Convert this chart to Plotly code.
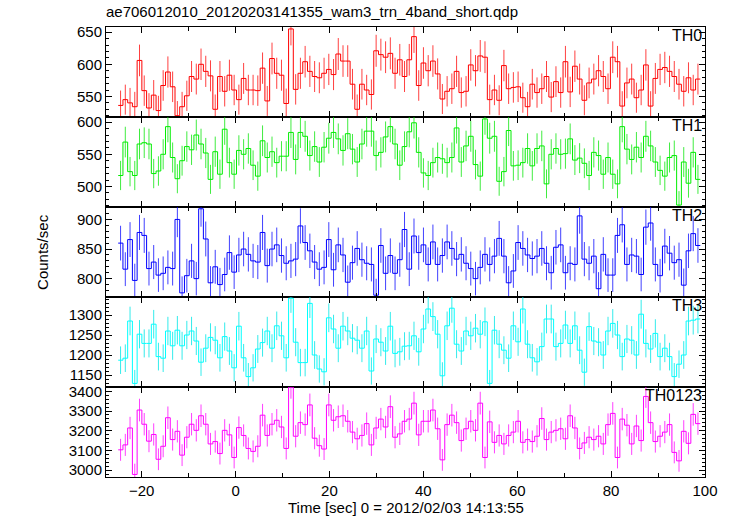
import numpy as np
import plotly.graph_objects as go
from plotly.subplots import make_subplots

title = "ae706012010_20120203141355_wam3_trn_4band_short.qdp"
x_title = "Time [sec] 0 = 2012/02/03 14:13:55"
y_title = "Counts/sec"
band_names = ["TH0", "TH1", "TH2", "TH3", "TH0123"]
# time span covered by the light-curve bins (seconds from 14:13:55)
t_first = -25.0
t_last = 99.0

th0 = [536, 545, 540, 534, 606, 559, 532, 552, 528, 567,
       588, 565, 520, 534, 551, 581, 577, 600, 589, 582,
       530, 581, 558, 583, 560, 545, 578, 560, 560, 559,
       594, 543, 609, 586, 583, 539, 655, 561, 586, 604,
       589, 581, 579, 586, 592, 584, 616, 605, 605, 569,
       530, 569, 560, 553, 621, 615, 611, 617, 586, 607,
       581, 607, 643, 567, 602, 590, 605, 585, 546, 558,
       562, 589, 556, 558, 599, 590, 613, 611, 545, 560,
       544, 598, 562, 564, 565, 548, 534, 569, 556, 562,
       581, 549, 573, 556, 604, 557, 597, 577, 544, 571,
       577, 590, 581, 562, 611, 604, 535, 571, 577, 548,
       560, 599, 535, 578, 592, 595, 589, 581, 569, 558,
       579, 560, 577]
th1 = [517, 569, 523, 517, 566, 568, 566, 520, 524, 550,
       593, 545, 512, 540, 562, 557, 580, 566, 552, 511,
       554, 519, 589, 537, 519, 556, 550, 559, 533, 516,
       571, 545, 554, 537, 547, 547, 584, 542, 584, 578,
       548, 562, 538, 561, 575, 584, 574, 556, 582, 558,
       538, 566, 586, 586, 548, 553, 577, 593, 566, 533,
       562, 585, 599, 553, 521, 517, 537, 545, 543, 537,
       545, 591, 538, 563, 578, 534, 516, 605, 575, 578,
       508, 523, 587, 532, 533, 537, 559, 532, 559, 563,
       504, 550, 559, 550, 551, 574, 541, 544, 536, 517,
       553, 548, 519, 545, 519, 504, 593, 558, 542, 561,
       545, 578, 563, 538, 525, 516, 545, 548, 471, 538,
       505, 553, 511]
th2 = [860, 816, 866, 797, 878, 873, 817, 828, 806, 809,
       819, 817, 900, 776, 805, 830, 800, 918, 867, 793,
       820, 790, 807, 844, 811, 840, 850, 841, 830, 828,
       878, 822, 850, 857, 839, 826, 830, 833, 889, 861,
       847, 828, 816, 819, 866, 815, 857, 840, 794, 827,
       851, 832, 826, 824, 772, 856, 809, 839, 809, 832,
       883, 816, 872, 844, 857, 824, 862, 824, 839, 862,
       851, 833, 841, 826, 817, 800, 819, 841, 824, 838,
       868, 838, 793, 813, 861, 851, 840, 834, 838, 851,
       826, 810, 853, 857, 810, 826, 824, 906, 833, 826,
       838, 783, 841, 806, 806, 873, 891, 824, 840, 838,
       807, 887, 894, 824, 805, 855, 843, 827, 832, 789,
       847, 876, 856]
th3 = [1187, 1192, 1285, 1129, 1252, 1229, 1229, 1277, 1196, 1192,
       1260, 1223, 1262, 1223, 1250, 1260, 1235, 1182, 1217, 1244,
       1237, 1193, 1246, 1210, 1168, 1272, 1193, 1146, 1168, 1215,
       1231, 1260, 1217, 1273, 1248, 1193, 1342, 1232, 1181, 1181,
       1329, 1200, 1165, 1158, 1293, 1265, 1217, 1272, 1260, 1242,
       1237, 1217, 1260, 1160, 1240, 1232, 1210, 1272, 1204, 1208,
       1222, 1223, 1248, 1208, 1265, 1315, 1296, 1252, 1148, 1273,
       1317, 1227, 1210, 1260, 1248, 1267, 1252, 1283, 1129, 1262,
       1227, 1212, 1192, 1273, 1233, 1315, 1227, 1193, 1183, 1221,
       1290, 1290, 1221, 1229, 1275, 1229, 1273, 1212, 1157, 1271,
       1235, 1232, 1200, 1260, 1279, 1250, 1196, 1240, 1237, 1200,
       1302, 1229, 1215, 1254, 1196, 1217, 1196, 1146, 1177, 1200,
       1285, 1287, 1290]
th0123 = [3103, 3128, 3214, 2978, 3305, 3233, 3147, 3181, 3055, 3121,
          3266, 3155, 3197, 3076, 3167, 3233, 3202, 3276, 3233, 3133,
          3145, 3084, 3202, 3179, 3064, 3216, 3176, 3110, 3095, 3121,
          3279, 3176, 3233, 3253, 3219, 3110, 3421, 3172, 3241, 3231,
          3331, 3162, 3124, 3107, 3331, 3253, 3271, 3276, 3248, 3193,
          3159, 3176, 3236, 3128, 3214, 3259, 3219, 3322, 3167, 3184,
          3248, 3259, 3340, 3179, 3248, 3248, 3305, 3210, 3052, 3231,
          3279, 3241, 3150, 3210, 3248, 3202, 3340, 3064, 3245, 3141,
          3176, 3133, 3176, 3193, 3248, 3141, 3155, 3145, 3172, 3262,
          3155, 3193, 3202, 3210, 3159, 3276, 3214, 3110, 3138, 3167,
          3155, 3172, 3133, 3231, 3288, 3064, 3259, 3228, 3133, 3224,
          3150, 3374, 3241, 3145, 3172, 3193, 3231, 3090, 3047, 3197,
          3136, 3283, 3236]

series = [th0, th1, th2, th3, th0123]
colors = ["#ff0000", "#00ee00", "#0000ff", "#00ffff", "#ff00ff"]
err_colors = ["rgba(255,0,0,0.75)", "rgba(0,230,0,0.75)", "rgba(0,0,255,0.75)",
              "rgba(0,230,230,0.8)", "rgba(255,0,255,0.75)"]
y_ranges = [[518, 658], [468, 608], [769, 921], [1120, 1345], [2965, 3422]]
y_dtick = [50, 50, 50, 50, 100]
y_minor = [10, 10, 10, 10, 20]
x_range = [-27.6, 100]

FONT = "Liberation Sans, Arial, Helvetica, sans-serif"

fig = make_subplots(rows=5, cols=1, shared_xaxes=True, vertical_spacing=0)

for k, vals in enumerate(series):
    v = np.asarray(vals, dtype=float)
    n = len(v)
    edges = np.linspace(t_first, t_last, n + 1)
    centers = 0.5 * (edges[:-1] + edges[1:])
    err = np.sqrt(v)  # Poisson errors of 1-s bins
    fig.add_trace(go.Scatter(
        x=centers, y=v, mode="markers",
        marker=dict(size=1, color="rgba(0,0,0,0)"),
        error_y=dict(type="data", array=err, visible=True, thickness=1,
                     width=0, color=err_colors[k]),
        showlegend=False, hoverinfo="skip"), row=k + 1, col=1)
    fig.add_trace(go.Scatter(
        x=edges, y=np.append(v, v[-1]), mode="lines",
        line=dict(shape="hv", width=1, color=colors[k]),
        showlegend=False), row=k + 1, col=1)
    fig.update_yaxes(range=y_ranges[k], dtick=y_dtick[k], tick0=0,
                     ticks="inside", ticklen=6, tickcolor="black",
                     minor=dict(ticks="inside", dtick=y_minor[k], ticklen=3,
                                tickcolor="black"),
                     showline=True, linecolor="black", linewidth=1,
                     mirror="allticks", showgrid=False, zeroline=False,
                     tickfont=dict(family=FONT, size=15, color="black"),
                     row=k + 1, col=1)
    fig.update_xaxes(range=x_range, dtick=20, tick0=0,
                     ticks="inside", ticklen=6, tickcolor="black",
                     minor=dict(ticks="inside", dtick=10, ticklen=4,
                                tickcolor="black"),
                     showline=True, linecolor="black", linewidth=1,
                     mirror="allticks", showgrid=False, zeroline=False,
                     showticklabels=(k == 4),
                     tickfont=dict(family=FONT, size=15, color="black"),
                     row=k + 1, col=1)
    fig.add_annotation(text=band_names[k], xref="x domain" if k == 0 else f"x{k+1} domain",
                       yref="y domain" if k == 0 else f"y{k+1} domain",
                       x=1.0, y=1.0, xanchor="right", yanchor="top",
                       showarrow=False, xshift=-1, yshift=2,
                       font=dict(family=FONT, size=16, color="black"))

fig.add_annotation(text=x_title, xref="paper", yref="paper", x=0.5, y=-0.067,
                   xanchor="center", yanchor="middle", showarrow=False,
                   font=dict(family=FONT, size=15, color="black"))
fig.add_annotation(text=y_title, xref="paper", yref="paper", x=-0.107, y=0.5,
                   xanchor="center", yanchor="middle", textangle=-90, showarrow=False,
                   font=dict(family=FONT, size=15, color="black"))

fig.update_layout(
    width=730, height=516,
    margin=dict(l=106, r=25, t=27, b=39),
    paper_bgcolor="white", plot_bgcolor="white",
    title=dict(text=title, x=106 / 730, xanchor="left", y=1 - 12 / 516,
               yanchor="middle", font=dict(family=FONT, size=15, color="black")),
    font=dict(family=FONT, size=15, color="black"),
    showlegend=False,
)

fig.write_html("out.html", config={"displayModeBar": False},
               post_script="document.body.style.margin='0px';")
